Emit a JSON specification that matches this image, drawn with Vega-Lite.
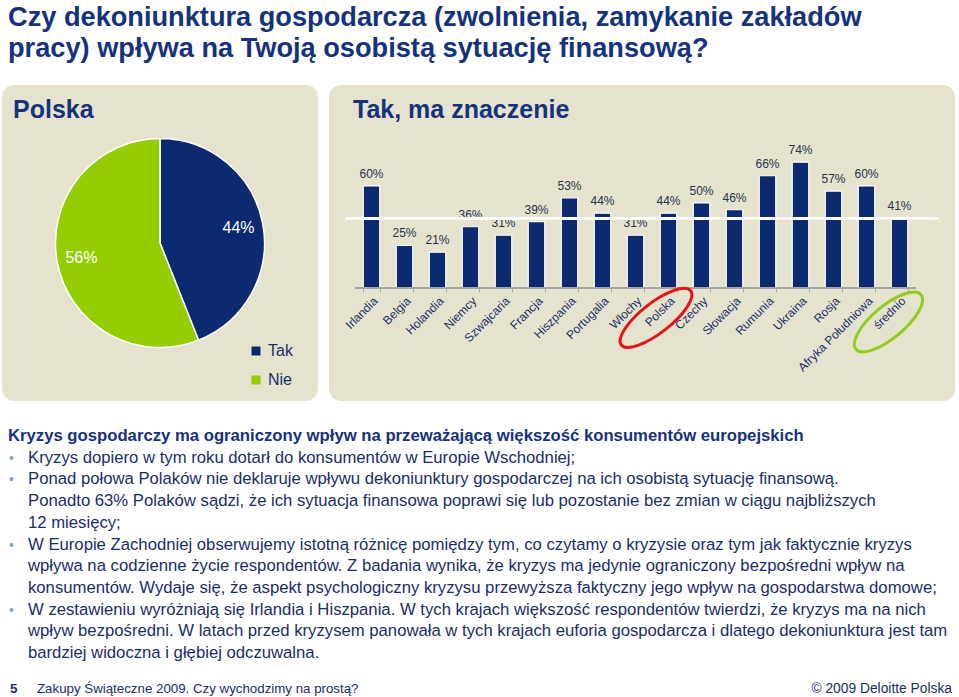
{
  "$schema": "https://vega.github.io/schema/vega-lite/v6.json",
  "background": "white",
  "padding": {"left": 2, "top": 3, "right": 0, "bottom": 0},
  "spacing": 27,
  "config": {"font": "Liberation Sans", "view": {"stroke": null}},
  "title": {
    "text": ["Czy dekoniunktura gospodarcza (zwolnienia, zamykanie zakładów", "pracy) wpływa na Twoją osobistą sytuację finansową?"],
    "anchor": "start",
    "fontSize": 27.2,
    "lineHeight": 31,
    "fontWeight": "bold",
    "color": "#14337c",
    "dx": 6,
    "offset": 22
  },
  "datasets": {
    "pie": [
      {"answer": "Tak", "share": 0.44},
      {"answer": "Nie", "share": 0.56}
    ],
    "bars": [
      {"country": "Irlandia", "value": 0.60},
      {"country": "Belgia", "value": 0.25},
      {"country": "Holandia", "value": 0.21},
      {"country": "Niemcy", "value": 0.36},
      {"country": "Szwajcaria", "value": 0.31},
      {"country": "Francja", "value": 0.39},
      {"country": "Hiszpania", "value": 0.53},
      {"country": "Portugalia", "value": 0.44},
      {"country": "Włochy", "value": 0.31},
      {"country": "Polska", "value": 0.44},
      {"country": "Czechy", "value": 0.50},
      {"country": "Słowacja", "value": 0.46},
      {"country": "Rumunia", "value": 0.66},
      {"country": "Ukraina", "value": 0.74},
      {"country": "Rosja", "value": 0.57},
      {"country": "Afryka Południowa", "value": 0.60},
      {"country": "średnio", "value": 0.41}
    ],
    "text": [
      {"line": 1, "kind": "heading", "text": "Kryzys gospodarczy ma ograniczony wpływ na przeważającą większość konsumentów europejskich"},
      {"line": 2, "kind": "bullet", "text": "Kryzys dopiero w tym roku dotarł do konsumentów w Europie Wschodniej;"},
      {"line": 3, "kind": "bullet", "text": "Ponad połowa Polaków nie deklaruje wpływu dekoniunktury gospodarczej na ich osobistą sytuację finansową."},
      {"line": 4, "kind": "cont", "text": "Ponadto 63% Polaków sądzi, że ich sytuacja finansowa poprawi się lub pozostanie bez zmian w ciągu najbliższych"},
      {"line": 5, "kind": "cont", "text": "12 miesięcy;"},
      {"line": 6, "kind": "bullet", "text": "W Europie Zachodniej obserwujemy istotną różnicę pomiędzy tym, co czytamy o kryzysie oraz tym jak faktycznie kryzys"},
      {"line": 7, "kind": "cont", "text": "wpływa na codzienne życie respondentów. Z badania wynika, że kryzys ma jedynie ograniczony bezpośredni wpływ na"},
      {"line": 8, "kind": "cont", "text": "konsumentów. Wydaje się, że aspekt psychologiczny kryzysu przewyższa faktyczny jego wpływ na gospodarstwa domowe;"},
      {"line": 9, "kind": "bullet", "text": "W zestawieniu wyróżniają się Irlandia i Hiszpania. W tych krajach większość respondentów twierdzi, że kryzys ma na nich"},
      {"line": 10, "kind": "cont", "text": "wpływ bezpośredni. W latach przed kryzysem panowała w tych krajach euforia gospodarcza i dlatego dekoniunktura jest  tam"},
      {"line": 11, "kind": "cont", "text": "bardziej widoczna i głębiej odczuwalna."}
    ],
    "footer": [
      {"part": "page", "text": "5"},
      {"part": "source", "text": "Zakupy Świąteczne 2009. Czy wychodzimy na prostą?"},
      {"part": "copyright", "text": "© 2009 Deloitte Polska"}
    ]
  },
  "vconcat": [
    {
      "spacing": 10,
      "hconcat": [
        {
          "width": 316,
          "height": 316,
          "view": {"fill": "#e5e3ce", "cornerRadius": 12, "stroke": null},
          "title": {"text": "Polska", "anchor": "start", "frame": "group", "offset": -58, "dx": 11, "fontSize": 25, "fontWeight": "bold", "color": "#15337c", "baseline": "alphabetic"},
          "data": {"name": "pie"},
          "encoding": {
            "theta": {"field": "share", "type": "quantitative", "stack": true},
            "order": {"field": "answer", "sort": "descending"},
            "color": {
              "field": "answer",
              "type": "nominal",
              "scale": {"domain": ["Tak", "Nie"], "range": ["#0c2a70", "#93cd02"]},
              "legend": {
                "orient": "none",
                "legendX": 246,
                "legendY": 258,
                "title": null,
                "symbolType": "square",
                "symbolSize": 81,
                "symbolStrokeWidth": 0,
                "labelFontSize": 16,
                "labelColor": "#1a2f6e",
                "rowPadding": 13,
                "labelOffset": 4
              }
            }
          },
          "layer": [
            {"mark": {"type": "arc", "outerRadius": 104.5, "stroke": "white", "strokeWidth": 1.5}},
            {
              "mark": {"type": "text", "radius": 80, "fontSize": 16, "color": "white", "align": "center", "baseline": "middle"},
              "encoding": {"text": {"field": "share", "type": "quantitative", "format": ".0%"}, "color": {"value": "white"}}
            }
          ]
        },
        {
          "width": 626,
          "height": 316,
          "view": {"fill": "#e5e3ce", "cornerRadius": 12, "stroke": null},
          "title": {"text": "Tak, ma znaczenie", "anchor": "start", "frame": "group", "offset": -58, "dx": 24, "fontSize": 25, "fontWeight": "bold", "color": "#15337c", "baseline": "alphabetic"},
          "data": {"name": "bars"},
          "encoding": {
            "x": {
              "field": "country",
              "type": "nominal",
              "sort": null,
              "scale": {"range": [26, 587], "paddingInner": 0.5, "paddingOuter": 0.25},
              "axis": {
                "orient": "bottom",
                "offset": -113,
                "title": null,
                "labelAngle": -45,
                "labelFontSize": 12,
                "labelColor": "#1c2e6c",
                "labelPadding": 3,
                "domain": false,
                "ticks": true,
                "tickBand": "extent",
                "tickColor": "#a6a6a6",
                "tickSize": 4,
                "grid": false
              }
            }
          },
          "layer": [
            {
              "mark": {"type": "bar", "color": "#0c2a70", "stroke": "white", "strokeWidth": 1.2},
              "encoding": {
                "y": {"field": "value", "type": "quantitative", "scale": {"domain": [-0.665, 1.194], "nice": false, "zero": false}, "axis": null},
                "y2": {"datum": 0}
              }
            },
            {
              "mark": {"type": "text", "baseline": "bottom", "dy": -5, "fontSize": 12, "color": "#26324f"},
              "encoding": {
                "y": {"field": "value", "type": "quantitative"},
                "text": {"field": "value", "type": "quantitative", "format": ".0%"}
              }
            },
            {
              "mark": {"type": "rule", "color": "#a6a6a6", "strokeWidth": 1, "xOffset": -16.5, "x2Offset": 16.5},
              "encoding": {
                "x": {"datum": "Irlandia"},
                "x2": {"datum": "średnio"},
                "y": {"datum": 0}
              }
            },
            {
              "mark": {"type": "rule", "color": "white", "strokeWidth": 2, "xOffset": -26.5, "x2Offset": 39.5},
              "encoding": {
                "x": {"datum": "Irlandia"},
                "x2": {"datum": "średnio"},
                "y": {"datum": 0.41}
              }
            },
            {
              "transform": [{"filter": "datum.country === 'Polska'"}],
              "mark": {"type": "point", "filled": false, "stroke": "#e3141b", "strokeWidth": 3, "opacity": 1, "shape": "M -1 0 A 1 0.34 0 1 1 1 0 A 1 0.34 0 1 1 -1 0 Z", "size": 7744, "angle": -38, "xOffset": -12.5},
              "encoding": {"y": {"datum": -0.176}}
            },
            {
              "transform": [{"filter": "datum.country === 'średnio'"}],
              "mark": {"type": "point", "filled": false, "stroke": "#8fcf1c", "strokeWidth": 3, "opacity": 1, "shape": "M -1 0 A 1 0.376 0 1 1 1 0 A 1 0.376 0 1 1 -1 0 Z", "size": 7225, "angle": -40, "xOffset": -11},
              "encoding": {"y": {"datum": -0.2}}
            }
          ]
        }
      ]
    },
    {
      "spacing": 20,
      "vconcat": [
        {
          "width": 950,
          "height": 217,
          "data": {"name": "text"},
          "encoding": {
            "y": {"field": "line", "type": "ordinal", "scale": {"type": "point", "padding": 0}, "axis": null},
            "x": {"datum": 0, "type": "quantitative", "scale": {"domain": [0, 1]}, "axis": null}
          },
          "layer": [
            {
              "transform": [{"filter": "datum.kind === 'heading'"}],
              "mark": {"type": "text", "align": "left", "baseline": "alphabetic", "dx": 6, "fontSize": 16.7, "fontWeight": "bold", "color": "#16327a"},
              "encoding": {"text": {"field": "text"}}
            },
            {
              "transform": [{"filter": "datum.kind !== 'heading'"}],
              "mark": {"type": "text", "align": "left", "baseline": "alphabetic", "dx": 26, "fontSize": 16.7, "color": "#1a2d6a"},
              "encoding": {"text": {"field": "text"}}
            },
            {
              "transform": [{"filter": "datum.kind === 'bullet'"}],
              "mark": {"type": "text", "text": "•", "align": "left", "baseline": "alphabetic", "dx": 7, "fontSize": 14, "color": "#8c9fc8"}
            }
          ]
        },
        {
          "width": 950,
          "height": 2,
          "data": {"name": "footer"},
          "encoding": {
            "x": {"datum": 0, "type": "quantitative", "scale": {"domain": [0, 1]}, "axis": null}
          },
          "layer": [
            {
              "transform": [{"filter": "datum.part === 'page'"}],
              "mark": {"type": "text", "align": "left", "baseline": "alphabetic", "dx": 8, "fontSize": 13.5, "fontWeight": "bold", "color": "#1a2d6a"},
              "encoding": {"text": {"field": "text"}}
            },
            {
              "transform": [{"filter": "datum.part === 'source'"}],
              "mark": {"type": "text", "align": "left", "baseline": "alphabetic", "dx": 35, "fontSize": 13.3, "color": "#1a2d6a"},
              "encoding": {"text": {"field": "text"}}
            },
            {
              "transform": [{"filter": "datum.part === 'copyright'"}],
              "mark": {"type": "text", "align": "right", "baseline": "alphabetic", "fontSize": 13.8, "color": "#1a2d6a"},
              "encoding": {"x": {"datum": 1, "type": "quantitative"}, "text": {"field": "text"}}
            }
          ]
        }
      ]
    }
  ]
}
